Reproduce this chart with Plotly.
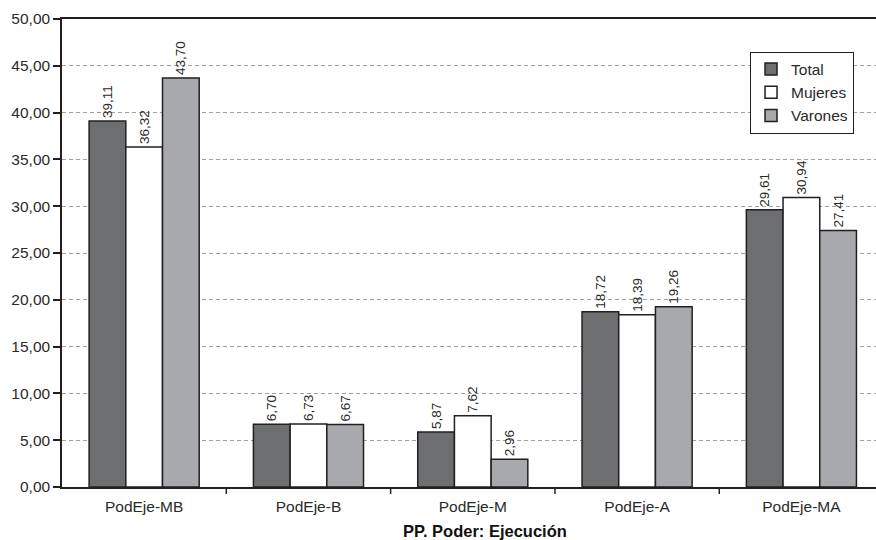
import plotly.graph_objects as go

categories = ["PodEje-MB", "PodEje-B", "PodEje-M", "PodEje-A", "PodEje-MA"]
total = [39.11, 6.70, 5.87, 18.72, 29.61]
mujeres = [36.32, 6.73, 7.62, 18.39, 30.94]
varones = [43.70, 6.67, 2.96, 19.26, 27.41]
y_ticks = [0, 5, 10, 15, 20, 25, 30, 35, 40, 45, 50]
x_title = "PP. Poder: Ejecución"

FONT = "Liberation Sans, Arial, sans-serif"
TXT = "#2a2a2a"
series = [("Total", total, "#6d6e70"), ("Mujeres", mujeres, "#ffffff"), ("Varones", varones, "#a7a9ac")]

fig = go.Figure()
for name, vals, col in series:
    fig.add_trace(go.Bar(
        name=name, x=categories, y=vals,
        marker=dict(color=col, line=dict(color="#231f20", width=1.5)),
        texttemplate="%{y:.2f}", textposition="outside", textangle=-90,
        textfont=dict(size=13.5, color=TXT, family=FONT),
        cliponaxis=False,
    ))

fig.update_layout(
    width=876, height=540,
    margin=dict(l=62, r=0, t=19, b=53),
    paper_bgcolor="white", plot_bgcolor="white",
    separators=",.",
    barmode="group", bargap=0.33, bargroupgap=0,
    font=dict(family=FONT, size=15.5, color=TXT),
    showlegend=True,
    legend=dict(x=0.973, y=0.9305, xanchor="right", yanchor="top",
                bordercolor="#231f20", borderwidth=1, bgcolor="white",
                font=dict(size=15.5, color=TXT), itemwidth=30,
                tracegroupgap=0),
    xaxis=dict(type="category", range=[-0.5, 4.454], showline=True, linecolor="#231f20",
               linewidth=1.5, mirror=True, ticks="", showgrid=False, automargin=False,
               ticklabelstandoff=5,
               tickfont=dict(size=15.5, color=TXT)),
    yaxis=dict(range=[0, 50], tickvals=y_ticks,
               ticktext=[f"{v:.2f}".replace(".", ",") for v in y_ticks],
               showline=True, linecolor="#231f20", linewidth=1.5, automargin=False,
               ticks="outside", ticklen=7, tickcolor="#231f20", tickwidth=1.5,
               showgrid=True, gridcolor="#a0a0a0", griddash="4px,3px", gridwidth=1,
               zeroline=False, tickfont=dict(size=15.5, color=TXT)),
    annotations=[dict(text=f"<b>{x_title}</b>", xref="paper", yref="paper",
                      x=(485 - 62) / 814, y=-44 / 468, xanchor="center", yanchor="middle",
                      showarrow=False, font=dict(size=16.5, color="#111111", family=FONT))],
)

# category separator ticks on x axis
for i in range(1, len(categories)):
    fig.add_shape(type="line", xref="x", yref="paper", x0=i - 0.5, x1=i - 0.5, y0=0, y1=-0.015,
                  line=dict(color="#231f20", width=1.5))

fig.write_html("out.html", config={"displayModeBar": False},
               post_script="document.body.style.margin='0px';")
